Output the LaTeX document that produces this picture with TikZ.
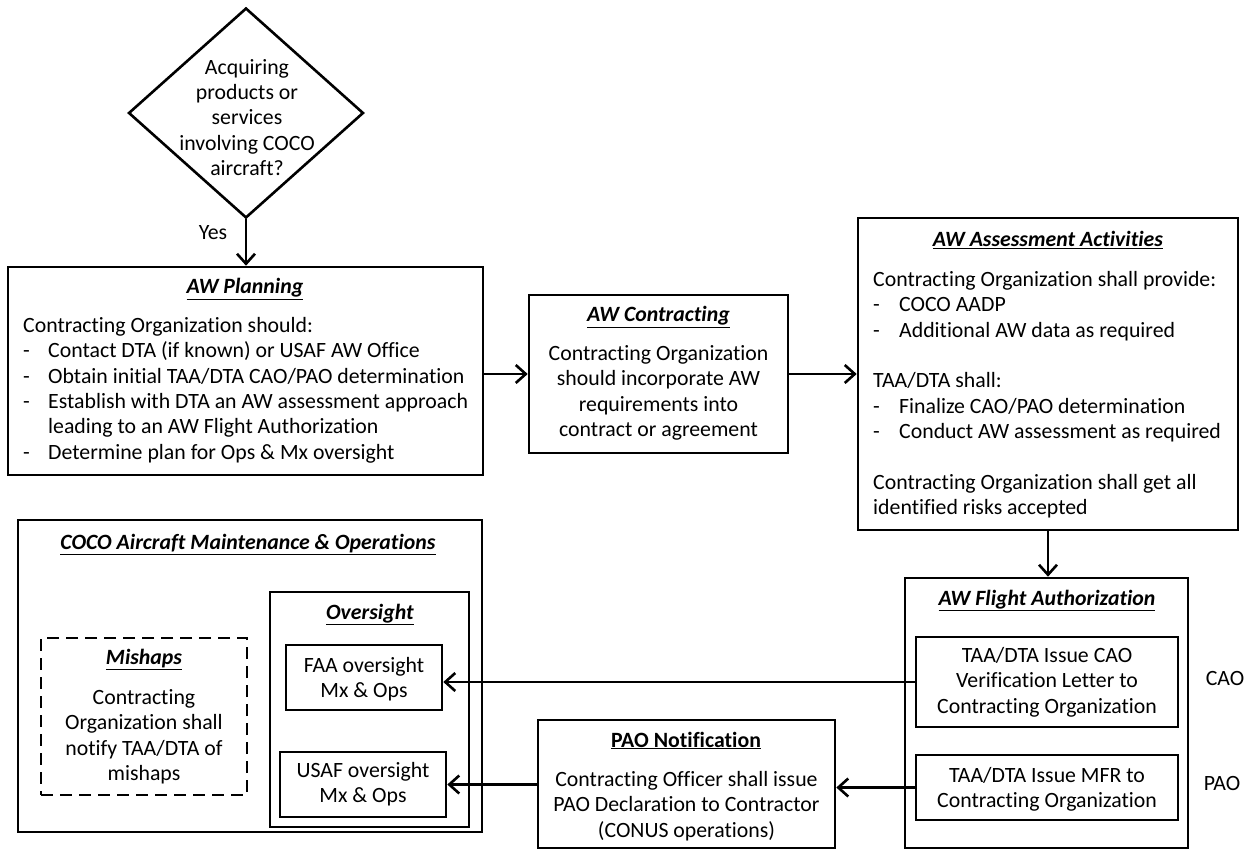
\documentclass[tikz,border=0pt]{standalone}
\usepackage{fontspec}
\setmainfont{Carlito}[Ligatures={NoCommon}]
\usetikzlibrary{arrows.meta,shapes.geometric}
\newcommand\mytitle[1]{\underline{\textbf{\textit{#1}}}}
\newcommand\mybul{\makebox[25pt][l]{-}}
\begin{document}
\begin{tikzpicture}[x={(1pt,0)},y={(0,-1pt)},
  every node/.style={font=\fontsize{21.8}{25.4}\selectfont, inner sep=0pt},
  box/.style={draw, line width=2.6pt, rectangle},
  dbox/.style={draw, line width=2.6pt, rectangle, dash pattern=on 12pt off 7pt},
  txt/.style={align=left, anchor=north west},
  ctxt/.style={align=center, anchor=north},
  ttl/.style={anchor=base},
  arr/.style={line width=2.6pt, -{Straight Barb[length=10pt,width=18pt]}}]
\fill[white] (0,0) rectangle (1250,850);
\useasboundingbox (0,0) rectangle (1250,850);

% decision
\node[draw, line width=2.6pt, diamond, minimum width=235pt, minimum height=210pt] (dia) at (246,113) {};
\node[ctxt] (diat) at (247,56) {\rule{0pt}{18pt}Acquiring\\products or\\services\\involving COCO\\aircraft?};

% AW Planning
\node[box, minimum width=475pt, minimum height=208pt] (plan) at (245.5,371) {};
\node[ttl] (plant) at (245,294) {\mytitle{AW Planning}};
\node[txt] (planb) at (23,314) {\rule{0pt}{18pt}Contracting Organization should:\\
\mybul Contact DTA (if known) or USAF AW Office\\
\mybul Obtain initial TAA/DTA CAO/PAO determination\\
\mybul Establish with DTA an AW assessment approach\\
\hspace*{25pt}leading to an AW Flight Authorization\\
\mybul Determine plan for Ops \& Mx oversight};

% AW Contracting
\node[box, minimum width=259pt, minimum height=158pt] (contr) at (658.5,374) {};
\node[ttl] (contrt) at (658.5,322) {\mytitle{AW Contracting}};
\node[ctxt] (contrb) at (658.5,342) {\rule{0pt}{18pt}Contracting Organization\\should incorporate AW\\requirements into\\contract or agreement};

% AW Assessment Activities
\node[box, minimum width=380pt, minimum height=312pt] (assess) at (1048,374) {};
\node[ttl] (assesst) at (1048,247) {\mytitle{AW Assessment Activities}};
\node[txt] (assessb) at (873,268) {\rule{0pt}{18pt}Contracting Organization shall provide:\\
\makebox[26pt][l]{-}COCO AADP\\
\makebox[26pt][l]{-}Additional AW data as required\\
\mbox{}\\
TAA/DTA shall:\\
\makebox[26pt][l]{-}Finalize CAO/PAO determination\\
\makebox[26pt][l]{-}Conduct AW assessment as required\\
\mbox{}\\
Contracting Organization shall get all\\
identified risks accepted};

% AW Flight Authorization
\node[box, minimum width=283pt, minimum height=270pt] (flight) at (1046.5,713) {};
\node[ttl] (flightt) at (1047,605) {\mytitle{AW Flight Authorization}};
\node[box, minimum width=262pt, minimum height=90pt] (cao) at (1047,682) {};
\node[ctxt] (caot) at (1047,644) {\rule{0pt}{18pt}TAA/DTA Issue CAO\\Verification Letter to\\Contracting Organization};
\node[box, minimum width=262pt, minimum height=65pt] (mfr) at (1047,787.5) {};
\node[ctxt] (mfrt) at (1047,764) {\rule{0pt}{18pt}TAA/DTA Issue MFR to\\Contracting Organization};
\node[ttl] (caol) at (1225,685) {CAO};
\node[ttl] (paol) at (1222,790) {PAO};

% PAO Notification
\node[box, minimum width=297pt, minimum height=128pt] (pao) at (686.5,784) {};
\node[ttl] (paot) at (686,747) {\underline{\textbf{PAO Notification}}};
\node[ctxt] (paob) at (686.5,768) {\rule{0pt}{18pt}Contracting Officer shall issue\\PAO Declaration to Contractor\\(CONUS operations)};

% COCO Aircraft Maintenance & Operations
\node[box, minimum width=464pt, minimum height=312pt] (coco) at (250,676) {};
\node[ttl] (cocot) at (248,549) {\mytitle{COCO Aircraft Maintenance \& Operations}};
\node[box, minimum width=199pt, minimum height=235pt] (over) at (369.5,709.5) {};
\node[ttl] (overt) at (370,619) {\mytitle{Oversight}};
\node[box, minimum width=156pt, minimum height=65pt] (faa) at (364,677.5) {};
\node[ctxt] (faat) at (364,654) {\rule{0pt}{18pt}FAA oversight\\Mx \& Ops};
\node[box, minimum width=166pt, minimum height=65pt] (usaf) at (363,784.5) {};
\node[ctxt] (usaft) at (363,759) {\rule{0pt}{18pt}USAF oversight\\Mx \& Ops};
\node[dbox, minimum width=206pt, minimum height=157pt] (mish) at (144,716.5) {};
\node[ttl] (misht) at (144,664) {\mytitle{Mishaps}};
\node[ctxt] (mishb) at (144,686) {\rule{0pt}{18pt}Contracting\\Organization shall\\notify TAA/DTA of\\mishaps};

% connectors
\draw[arr] (dia.south) -- (dia.south |- plan.north);
\node[ttl] (yes) at (213,240) {Yes};
\draw[arr] (plan.east |- contr.west) -- (contr.west);
\draw[arr] (contr.east) -- (assess.west);
\draw[arr] (assess.south) -- (assess.south |- flight.north);
\draw[arr] (cao.west) -- (cao.west -| faa.east);
\draw[arr] (mfr.west) -- (mfr.west -| pao.east);
\draw[arr] (pao.west |- usaf.east) -- (usaf.east);
\end{tikzpicture}
\end{document}
